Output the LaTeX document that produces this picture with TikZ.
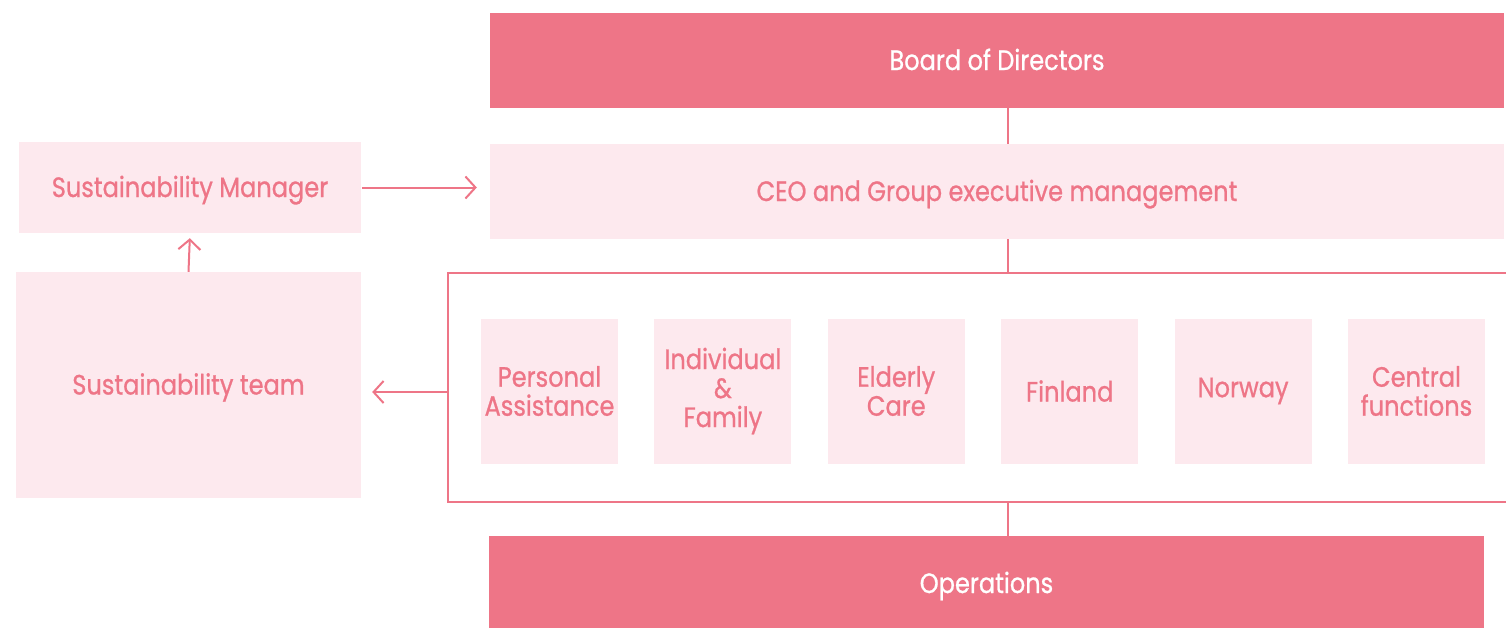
\documentclass[tikz,border=0pt]{standalone}
\usepackage{fontspec}
\setmainfont{Poppins}[FakeStretch=0.86]
\newfontfamily\boxfont{Poppins}[FakeStretch=0.86, FakeBold=0.8]
\usepackage{xcolor}
\usepackage{tikz}
\usetikzlibrary{positioning,arrows.meta}

\definecolor{rosedark}{HTML}{EE7587}
\definecolor{roselight}{HTML}{FDE9EE}

\begin{document}
\begin{tikzpicture}[
    x=1pt, y=-1pt,
    font=\boxfont\fontsize{28}{29}\selectfont,
    box/.style={
        rectangle, inner sep=0pt,
        fill=roselight, text=rosedark,
        align=center
    },
    head/.style={
        box, fill=rosedark, text=white
    },
    oneline/.style={text height=19pt, text depth=0pt},
    unit/.style={
        box, minimum width=137pt, minimum height=145pt
    },
    arrow/.style={-{Straight Barb[length=10pt,width=22pt]}, line width=2pt, rosedark},
    link/.style={line width=2pt, rosedark}
]
\useasboundingbox (0,0) rectangle (1506,627);

\node[head, oneline, minimum width=1014pt, minimum height=95pt] (board) at (997,60.5) {Board of Directors};
\node[box, oneline, minimum width=1014pt, minimum height=95pt] (ceo) at (997,191.5) {CEO and Group executive management};
\node[box, oneline, minimum width=342pt, minimum height=91pt] (manager) at (190,187.5) {Sustainability Manager};
\node[box, oneline, minimum width=345pt, minimum height=226pt] (team) at (188.5,385) {Sustainability team};
\node[draw=rosedark, line width=2pt, minimum width=1072pt, minimum height=229pt, inner sep=0pt] (frame) at (984,387.5) {};
\node[head, oneline, minimum width=995pt, minimum height=95pt] (ops) at (986.5,583.5) {Operations};

% business areas
\foreach \name/\label [count=\i from 0] in {pa/Personal\\Assistance, fam/Individual\\\&\\Family, elder/Elderly\\Care, fin/Finland, nor/Norway, central/Central\\functions}
    \node[unit] (\name) at (549.5+173.4*\i,391) {\label};

\coordinate (spine) at (1008,0);
\draw[link] (board.south -| spine) -- (ceo.north -| spine);
\draw[link] (ceo.south -| spine) -- (frame.north -| spine);
\draw[link] (frame.south -| spine) -- (ops.north -| spine);

\draw[arrow, shorten >=5pt] (team.north) -- (manager.south);
\draw[arrow, shorten <=1pt, shorten >=13pt] (manager.east) -- (manager.east -| ceo.west);
\draw[arrow, shorten >=11pt] (frame.west |- 0,392) -- (team.east |- 0,392);

\end{tikzpicture}
\end{document}
